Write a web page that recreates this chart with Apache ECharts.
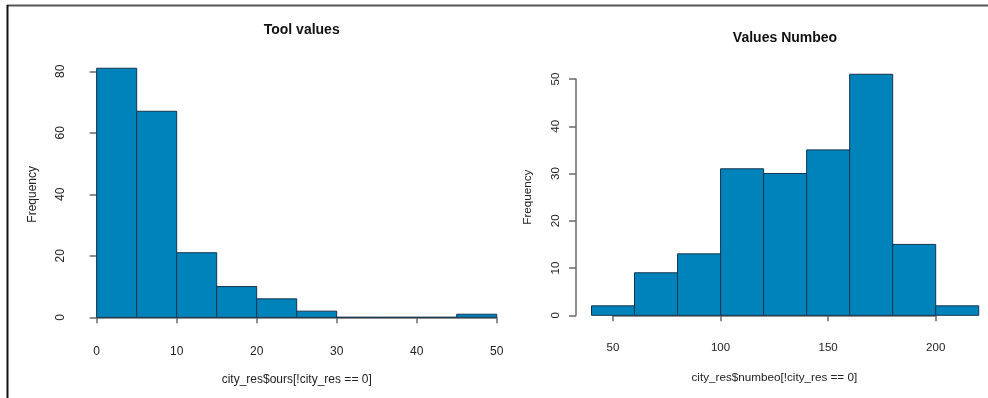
<!DOCTYPE html>
<html>
<head>
<meta charset="utf-8">
<script src="https://cdn.jsdelivr.net/npm/echarts@6/dist/echarts.min.js"></script>
<style>
html,body{margin:0;padding:0;background:#fff;}
#c{width:988px;height:398px;}
</style>
</head>
<body>
<div id="c"></div>
<script>
// ---- data ----
const toolBreaks = [0, 5, 10, 15, 20, 25, 30, 35, 40, 45, 50];
const toolCounts = [81, 67, 21, 10, 6, 2, 0, 0, 0, 1];
const toolXTicks = [0, 10, 20, 30, 40, 50];
const toolYTicks = [0, 20, 40, 60, 80];

const numbeoBreaks = [40, 60, 80, 100, 120, 140, 160, 180, 200, 220];
const numbeoCounts = [2, 9, 13, 31, 30, 35, 51, 15, 2];
const numbeoXTicks = [50, 100, 150, 200];
const numbeoYTicks = [0, 10, 20, 30, 40, 50];

const titles = ['Tool values', 'Values Numbeo'];
const xNames = ['city_res$ours[!city_res == 0]', 'city_res$numbeo[!city_res == 0]'];
const yName = 'Frequency';

function bins(breaks, counts) {
  return counts.map((c, i) => [breaks[i], breaks[i + 1], c]);
}

const FONT = '"Liberation Sans", Arial, sans-serif';
const BAR = '#0082ba';
const EDGE = '#12354f';
const AXIS = '#6a6a6a';
const TXT = '#222222';

function renderBin(params, api) {
  const p0 = api.coord([api.value(0), 0]);
  const p1 = api.coord([api.value(1), api.value(2)]);
  return {
    type: 'rect',
    shape: { x: p0[0], y: p1[1], width: p1[0] - p0[0], height: p0[1] - p1[1] },
    style: { fill: BAR, stroke: EDGE, lineWidth: 1 }
  };
}

function xAxisCfg(idx, ticks, offset, nameGap, fs, nfs, margin) {
  return {
    type: 'value', gridIndex: idx,
    min: ticks[0], max: ticks[ticks.length - 1],
    interval: ticks[1] - ticks[0],
    offset: offset,
    name: xNames[idx], nameLocation: 'middle', nameGap: nameGap,
    nameTextStyle: { fontFamily: FONT, fontSize: nfs, color: TXT },
    axisLine: { show: true, lineStyle: { color: AXIS, width: 1.5 } },
    axisTick: { show: true, length: 6, lineStyle: { color: AXIS, width: 1.5 } },
    axisLabel: { fontFamily: FONT, fontSize: fs, color: TXT, margin: margin },
    splitLine: { show: false }
  };
}
function yAxisCfg(idx, ticks, offset, nameGap, fs, nfs) {
  return {
    type: 'value', gridIndex: idx,
    min: ticks[0], max: ticks[ticks.length - 1],
    interval: ticks[1] - ticks[0],
    offset: offset,
    name: yName, nameLocation: 'middle', nameGap: nameGap,
    nameTextStyle: { fontFamily: FONT, fontSize: nfs, color: TXT },
    axisLine: { show: true, lineStyle: { color: AXIS, width: 1.5 } },
    axisTick: { show: true, length: 7, lineStyle: { color: AXIS, width: 1.5 } },
    axisLabel: { fontFamily: FONT, fontSize: fs, color: TXT, rotate: 90, margin: 14 },
    splitLine: { show: false }
  };
}

const chart = echarts.init(document.getElementById('c'), null, { renderer: 'canvas' });
chart.setOption({
  animation: false,
  backgroundColor: '#ffffff',
  title: [
    { text: titles[0], left: 296.7, top: 18, textAlign: 'center',
      textStyle: { fontFamily: FONT, fontSize: 14, fontWeight: 'bold', color: '#111' } },
    { text: titles[1], left: 780, top: 26, textAlign: 'center',
      textStyle: { fontFamily: FONT, fontSize: 14, fontWeight: 'bold', color: '#111' } }
  ],
  grid: [
    { left: 96.7, top: 71.3, width: 400, height: 246 },
    { left: 613, top: 79, width: 322.7, height: 236.3 }
  ],
  xAxis: [
    xAxisCfg(0, toolXTicks, 10.4, 46, 12, 12, 18),
    xAxisCfg(1, numbeoXTicks, 10, 46, 11.5, 11.7, 17)
  ],
  yAxis: [
    yAxisCfg(0, toolYTicks, 15.7, 42, 12, 12),
    yAxisCfg(1, numbeoYTicks, 37, 42, 11.5, 11.7)
  ],
  graphic: [
    { type: 'line', shape: { x1: 7, y1: 5.5, x2: 988, y2: 5.5 }, style: { stroke: '#555', lineWidth: 2 } },
    { type: 'line', shape: { x1: 7.5, y1: 5, x2: 7.5, y2: 398 }, style: { stroke: '#111', lineWidth: 2 } }
  ],
  series: [
    { type: 'custom', xAxisIndex: 0, yAxisIndex: 0, clip: false,
      renderItem: renderBin, encode: { x: [0, 1], y: 2 },
      data: bins(toolBreaks, toolCounts) },
    { type: 'custom', xAxisIndex: 1, yAxisIndex: 1, clip: false,
      renderItem: renderBin, encode: { x: [0, 1], y: 2 },
      data: bins(numbeoBreaks, numbeoCounts) }
  ]
});
</script>
</body>
</html>
